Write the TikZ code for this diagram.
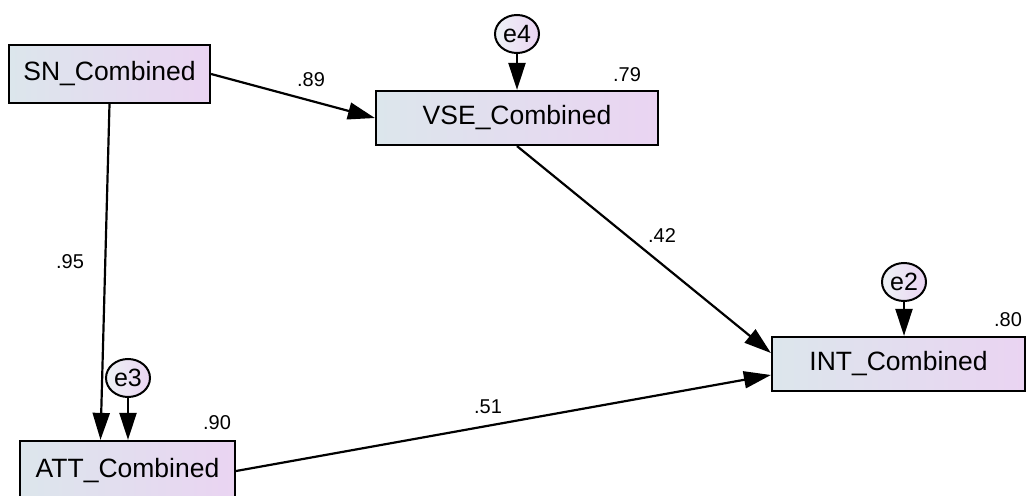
\documentclass[tikz,border=0pt]{standalone}
\usepackage{fontspec}
\setmainfont{Liberation Sans}
\usetikzlibrary{arrows.meta,shapes.geometric}
\definecolor{cl}{RGB}{220,230,236}
\definecolor{cr}{RGB}{234,212,242}
\begin{document}
\begin{tikzpicture}[x=1bp,y=-1bp,
  var/.style={draw=black, line width=2.2bp, rectangle, left color=cl, right color=cr,
    inner sep=0pt, font=\fontsize{26.5bp}{30bp}\selectfont},
  err/.style={draw=black, line width=2bp, ellipse, left color=cl!50!white, right color=cr,
    inner sep=0pt, minimum width=44bp, minimum height=38bp, font=\fontsize{25bp}{28bp}\selectfont},
  reg/.style={line width=2.2bp, -{Triangle[length=27bp,width=17bp]}},
  coef/.style={font=\fontsize{20bp}{24bp}\selectfont, inner sep=0pt}]
\path[use as bounding box] (0,0) rectangle (1027,496);
\clip (0,0) rectangle (1027,496);

\node[var, minimum width=201bp, minimum height=58bp] (SN) at (109.5,74) {SN\_Combined};
\node[var, minimum width=282bp, minimum height=54bp] (VSE) at (517,118) {VSE\_Combined};
\node[var, minimum width=253bp, minimum height=54bp] (INT) at (898.5,364) {INT\_Combined};
\node[var, minimum width=215bp, minimum height=60bp] (ATT) at (127.5,471) {ATT\_Combined};

\draw[reg] (SN.south) -- ([xshift=-27bp]ATT.north);
\node[err] (e4) at (517,34) {e4};
\node[err] (e3) at (128,378) {e3};
\node[err] (e2) at (904,282) {e2};

\draw[reg] (SN.east) -- (VSE.west);
\draw[reg] (e3.south) -- (e3.south |- ATT.north);
\draw[reg] (e4.south) -- (VSE.north);
\draw[reg] (e2.south) -- (e2.south |- INT.north);
\draw[reg] (VSE.south) -- ([yshift=11bp]INT.west);
\draw[reg] (ATT.east) -- ([yshift=-11bp]INT.west);

\node[coef] (c89) at (311,80) {.89};
\node[coef] (c42) at (662,236) {.42};
\node[coef] (c95) at (70,262) {.95};
\node[coef] (c51) at (488,407) {.51};
\node[coef] (c79) at (627,75) {.79};
\node[coef] (c80) at (1008,320) {.80};
\node[coef] (c90) at (217,423) {.90};
\end{tikzpicture}
\end{document}
